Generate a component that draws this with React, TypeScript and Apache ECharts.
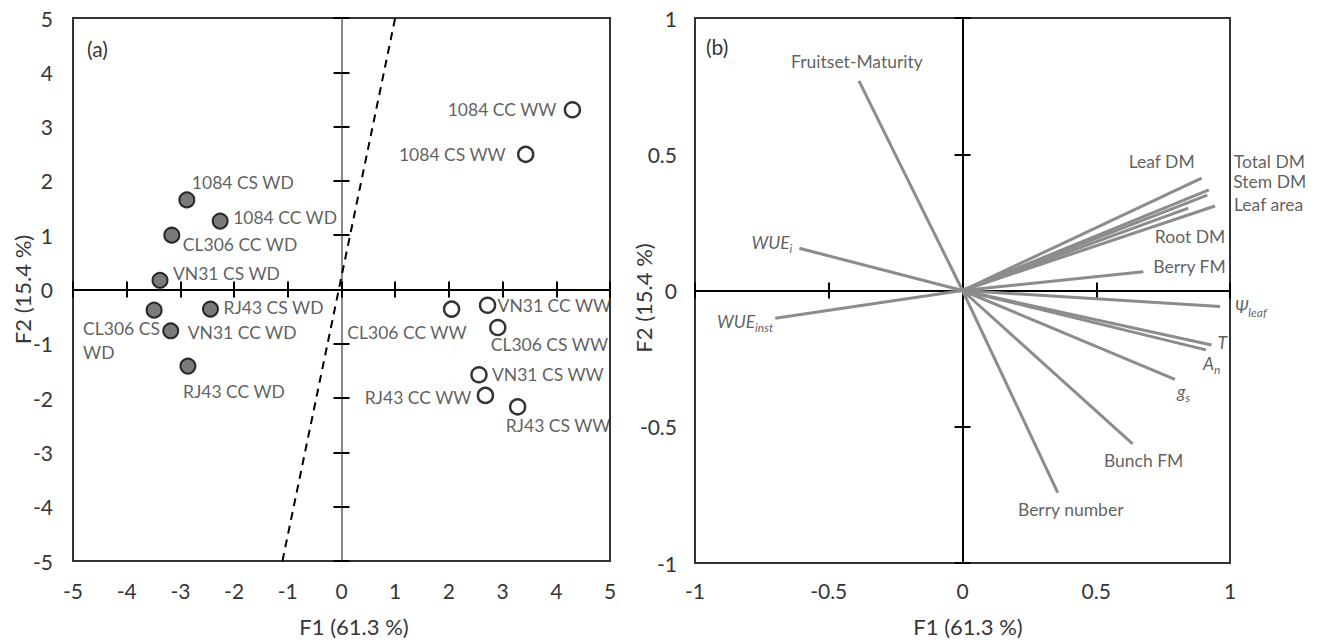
import React, { useEffect, useRef } from 'react';
import * as echarts from 'echarts';

// ---------- Data: panel (a) observation scores ----------
const wdNames = ['1084 CS WD', '1084 CC WD', 'CL306 CC WD', 'VN31 CS WD', 'CL306 CS\nWD', 'RJ43 CS WD', 'VN31 CC WD', 'RJ43 CC WD'];
const wdF1 = [-2.88, -2.26, -3.16, -3.38, -3.49, -2.44, -3.18, -2.86];
const wdF2 = [1.65, 1.26, 1.0, 0.17, -0.38, -0.36, -0.76, -1.41];

const wwNames = ['1084 CC WW', '1084 CS WW', 'CL306 CC WW', 'VN31 CC WW', 'CL306 CS WW', 'VN31 CS WW', 'RJ43 CC WW', 'RJ43 CS WW'];
const wwF1 = [4.3, 3.43, 2.05, 2.72, 2.91, 2.56, 2.68, 3.28];
const wwF2 = [3.31, 2.49, -0.36, -0.29, -0.7, -1.57, -1.95, -2.16];

const dividerF1 = [-1.1, 1.0];
const dividerF2 = [-5, 5];

// ---------- Data: panel (b) variable loadings ----------
const varNames = ['Fruitset-Maturity', 'WUEi', 'WUEinst', 'Leaf DM', 'Total DM', 'Stem DM', 'Leaf area', 'Root DM', 'Berry FM', 'Ψleaf', 'T', 'An', 'gs', 'Bunch FM', 'Berry number'];
const varF1 = [-0.387, -0.61, -0.7, 0.894, 0.921, 0.915, 0.944, 0.844, 0.676, 0.963, 0.931, 0.91, 0.794, 0.636, 0.356];
const varF2 = [0.769, 0.155, -0.102, 0.412, 0.369, 0.35, 0.31, 0.302, 0.069, -0.059, -0.2, -0.218, -0.326, -0.563, -0.742];

// Axis settings
const scoreRange = [-5, 5];
const scoreInterval = 1;
const loadRange = [-1, 1];
const loadInterval = 0.5;
const xTitle = 'F1 (61.3 %)';
const yTitle = 'F2 (15.4 %)';

// ---------- Styles (label placement: [align, dx, dy]) ----------
const wdPlace: [string, number, number][] = [
  ['left', 5, -17], ['left', 13, -4], ['left', 11, 9], ['left', 13, -7],
  ['left', -71, 30], ['left', 13, -2], ['left', 17, 2], ['left', -5, 25],
];
const wwPlace: [string, number, number][] = [
  ['right', -16, 0], ['right', -20, 0], ['right', 15, 23], ['left', 10, 0],
  ['left', -7, 17], ['left', 13, 0], ['right', -14, 2], ['left', -12, 19],
];
const varDisplay: Record<string, string> = {
  WUEi: '{m|WUE}{s|i}',
  WUEinst: '{m|WUE}{s|inst}',
  'Ψleaf': '{m|Ψ}{s|leaf}',
  T: '{m|T}',
  An: '{m|A}{s|n}',
  gs: '{m|g}{s|s}',
};
const varPlace: [string, number, number][] = [
  ['center', -2, -19], ['right', -7, -6], ['right', -2, 3], ['right', -7, -17],
  ['left', 25, -28], ['left', 26, -14], ['left', 19, -2], ['right', 37, 28],
  ['left', 10, -5], ['left', 15, 0], ['left', 6, -3], ['left', -3, 14],
  ['left', 2, 12], ['center', 11, 17], ['center', 13, 17],
];

const FONT = 'Lato, "Open Sans", sans-serif';
const TXT = '#363636';
const LABEL_SIZE = 17.5;
const TICK_SIZE = 21;
const TITLE_SIZE = 22;

function axisSet(dim: 'x' | 'y', gridIndex: number, range: number[], interval: number, lineColor: string,
  labelMargin: number, name: string, nameGap: number, namePad: number[]) {
  const common: any = { gridIndex, type: 'value', min: range[0], max: range[1], interval, splitLine: { show: false } };
  const posA = dim === 'x' ? 'bottom' : 'left';
  const posB = dim === 'x' ? 'top' : 'right';
  const tick = { show: true, length: 8, lineStyle: { color: '#000', width: 2 } };
  return [
    {
      ...common, position: posA,
      axisLine: { show: false, onZero: false }, axisTick: { show: false },
      axisLabel: { margin: labelMargin, fontSize: TICK_SIZE, color: TXT, fontFamily: FONT },
      name, nameLocation: 'middle', nameGap, nameMoveOverlap: false,
      nameTextStyle: { fontSize: TITLE_SIZE, color: TXT, fontFamily: FONT, padding: namePad },
    },
    {
      ...common, position: posA,
      axisLine: { show: true, onZero: true, lineStyle: { color: lineColor, width: 2 } },
      axisTick: tick, axisLabel: { show: false },
    },
    {
      ...common, position: posB,
      axisLine: { show: true, onZero: true, lineStyle: { color: lineColor, width: 2 } },
      axisTick: tick, axisLabel: { show: false },
    },
  ];
}

export default function App() {
  const ref = useRef<HTMLDivElement>(null);
  useEffect(() => {
    document.body.style.margin = '0';
    const chart = echarts.init(ref.current!, null, { renderer: 'svg' });

    const pointLabel = (place: [string, number, number]) => ({
      show: true, position: 'inside', align: place[0], verticalAlign: 'middle',
      offset: [place[1], place[2]], color: TXT, fontSize: LABEL_SIZE, fontFamily: FONT, lineHeight: 24,
    });

    const series: any[] = [
      {
        type: 'line', xAxisIndex: 0, yAxisIndex: 0, showSymbol: false, silent: true,
        data: dividerF1.map((x, i) => [x, dividerF2[i]]),
        lineStyle: { color: '#000', width: 2, type: [8, 6] },
      },
      {
        type: 'scatter', xAxisIndex: 0, yAxisIndex: 0, symbolSize: 15, z: 5,
        itemStyle: { color: '#595959', borderColor: '#000', borderWidth: 2 },
        data: wdNames.map((n, i) => ({ name: n, value: [wdF1[i], wdF2[i]], label: { ...pointLabel(wdPlace[i]), formatter: n } })),
      },
      {
        type: 'scatter', xAxisIndex: 0, yAxisIndex: 0, symbolSize: 15, z: 5,
        itemStyle: { color: '#fff', borderColor: '#000', borderWidth: 2.5 },
        data: wwNames.map((n, i) => ({ name: n, value: [wwF1[i], wwF2[i]], label: { ...pointLabel(wwPlace[i]), formatter: n } })),
      },
    ];

    varNames.forEach((n, i) => {
      series.push({
        type: 'line', xAxisIndex: 3, yAxisIndex: 3, showSymbol: false, silent: true, z: 3,
        data: [[0, 0], [varF1[i], varF2[i]]],
        lineStyle: { color: '#8c8c8c', width: 3 },
      });
    });
    series.push({
      type: 'scatter', xAxisIndex: 3, yAxisIndex: 3, symbolSize: 1, z: 6, silent: true,
      itemStyle: { color: 'rgba(0,0,0,0)' },
      data: varNames.map((n, i) => ({
        name: n, value: [varF1[i], varF2[i]],
        label: {
          show: true, position: 'inside', align: varPlace[i][0], verticalAlign: 'middle',
          offset: [varPlace[i][1], varPlace[i][2]],
          formatter: varDisplay[n] || n,
          color: TXT, fontSize: LABEL_SIZE, fontFamily: FONT,
          rich: {
            m: { fontStyle: 'italic', fontSize: LABEL_SIZE, fontFamily: FONT, color: TXT, lineHeight: 24 },
            s: { fontStyle: 'italic', fontSize: 12, fontFamily: FONT, color: TXT, lineHeight: 12, verticalAlign: 'bottom' },
          },
        },
      })),
    });

    chart.setOption({
      animation: false,
      backgroundColor: '#fff',
      grid: [
        { left: 73, top: 18, width: 537, height: 543, show: true, borderColor: '#333', borderWidth: 2, backgroundColor: 'transparent' },
        { left: 695, top: 18, width: 535, height: 545, show: true, borderColor: '#333', borderWidth: 2, backgroundColor: 'transparent' },
      ],
      xAxis: [
        ...axisSet('x', 0, scoreRange, scoreInterval, '#000', 19, xTitle, 54, [0, 0, 0, 25]),
        ...axisSet('x', 1, loadRange, loadInterval, '#000', 17, xTitle, 52, [0, 0, 0, 11]),
      ],
      yAxis: [
        ...axisSet('y', 0, scoreRange, scoreInterval, '#8a8a8a', 20, yTitle, 40, [0, 0, 0, 0]),
        ...axisSet('y', 1, loadRange, loadInterval, '#000', 18, yTitle, 41, [0, 15, 0, 0]),
      ],
      graphic: [
        { type: 'text', left: 87, top: 38, style: { text: '(a)', fontSize: TICK_SIZE, fill: TXT, fontFamily: FONT } },
        { type: 'text', left: 706, top: 36, style: { text: '(b)', fontSize: TICK_SIZE, fill: TXT, fontFamily: FONT } },
      ],
      series,
    });
    return () => chart.dispose();
  }, []);
  return <div ref={ref} style={{ width: 1326, height: 643 }} />;
}
